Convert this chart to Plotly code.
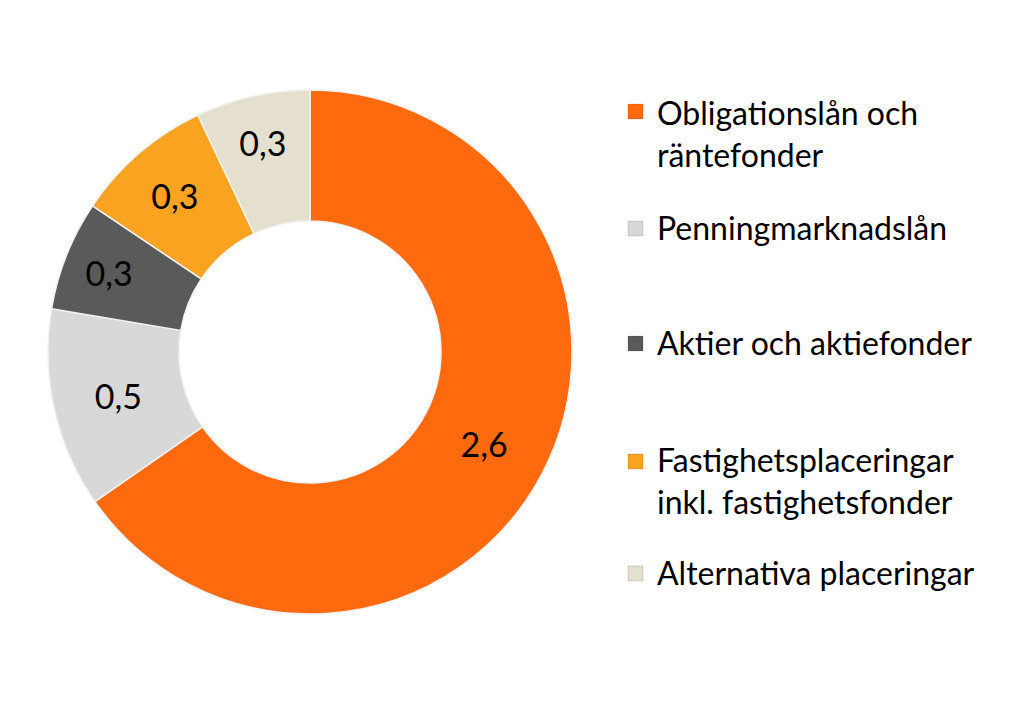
import plotly.graph_objects as go

categories = ["Obligationslån och räntefonder", "Penningmarknadslån", "Aktier och aktiefonder",
              "Fastighetsplaceringar inkl. fastighetsfonder", "Alternativa placeringar"]
legend_text = ["Obligationslån och<br>räntefonder", "Penningmarknadslån", "Aktier och aktiefonder",
               "Fastighetsplaceringar<br>inkl. fastighetsfonder", "Alternativa placeringar"]
values = [2.6, 0.49, 0.27, 0.34, 0.28]
colors = ["#FF6A0E", "#D8D8D8", "#5A5A5A", "#F9A320", "#E5DFCD"]

W, H = 1014, 726
FONT = "Lato"

cx, cy, r = 310, 352, 262
fig = go.Figure(go.Pie(
    labels=categories, values=values, sort=False, direction="clockwise", rotation=0,
    hole=0.5, marker=dict(colors=colors, line=dict(color="#F2F2F2", width=1.5)),
    texttemplate="%{value:.1f}", textposition="inside", insidetextorientation="horizontal",
    textfont=dict(family=FONT, size=34, color="black"),
    domain=dict(x=[(cx - r) / W, (cx + r) / W], y=[1 - (cy + r) / H, 1 - (cy - r) / H]),
    showlegend=False,
))

# manual legend
leg_y = [133, 227, 342, 480, 572]   # vertical center of each entry block (px from top)
first_line = [110, 227, 342, 460, 572]
annotations, shapes = [], []
for txt, col, yc, y1 in zip(legend_text, colors, leg_y, first_line):
    annotations.append(dict(x=655 / W, y=1 - yc / H, xref="paper", yref="paper", text=txt,
                            showarrow=False, xanchor="left", yanchor="middle", align="left",
                            font=dict(family=FONT, size=32, color="black")))
    shapes.append(dict(type="rect", xref="paper", yref="paper",
                       x0=628 / W, x1=643 / W, y0=1 - (y1 + 9) / H, y1=1 - (y1 - 6) / H,
                       fillcolor=col, line=dict(color="rgba(0,0,0,0.25)", width=0.5)))

fig.update_layout(width=W, height=H, margin=dict(l=0, r=0, t=0, b=0),
                  paper_bgcolor="white", plot_bgcolor="white", separators=", ",
                  annotations=annotations, shapes=shapes)
fig.write_html("out.html")
